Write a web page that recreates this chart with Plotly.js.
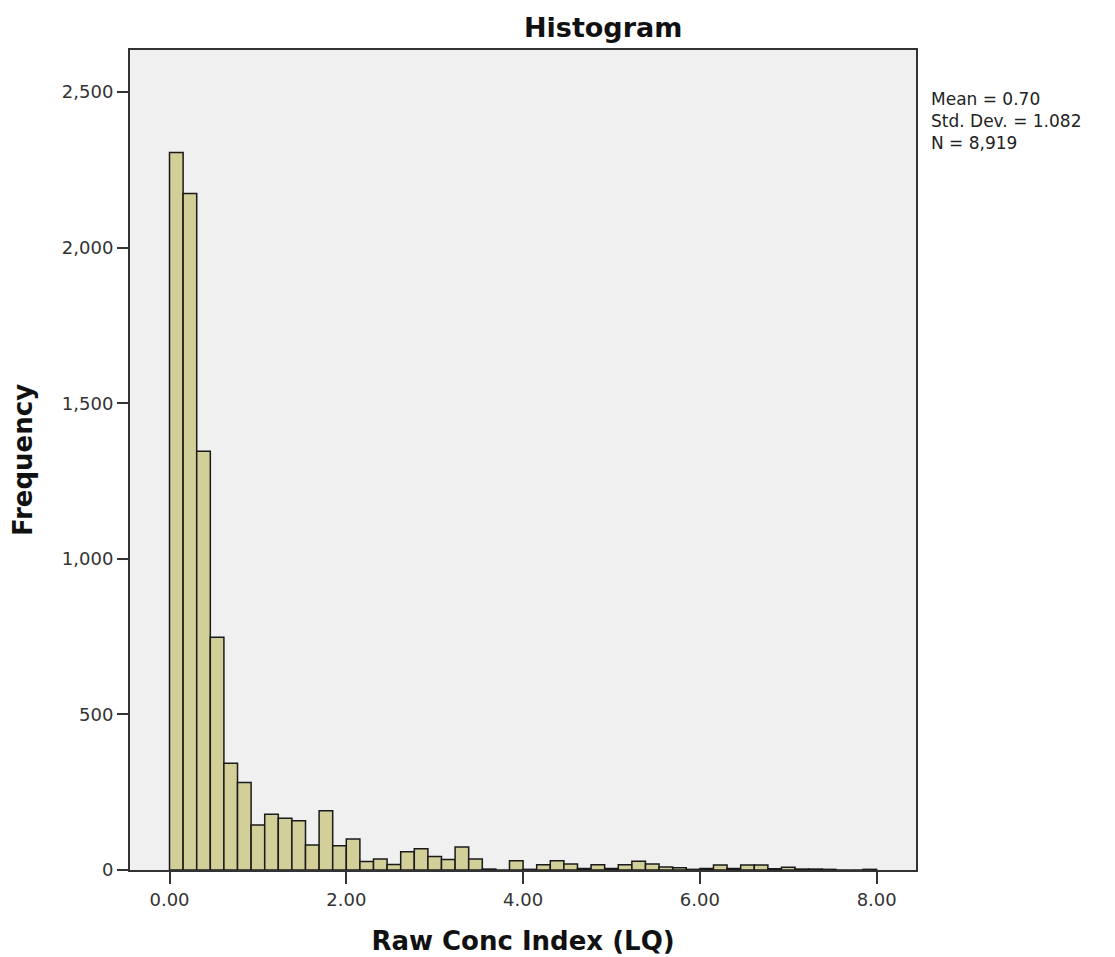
<!DOCTYPE html>
<html>
<head>
<meta charset="utf-8">
<script src="https://cdn.plot.ly/plotly-3.0.1.min.js"></script>
<style>html,body{margin:0;padding:0;background:#fff;}#chart{width:1115px;height:957px;}</style>
</head>
<body>
<div id="chart"></div>
<script>
// Histogram bins: 52 bins spanning 0 to 8
const binStart = 0;
const binEnd = 8;
const counts = [2306, 2174, 1346, 748, 343, 281, 145, 179, 166, 158,
                80, 190, 78, 100, 27, 35, 18, 59, 68, 43,
                34, 74, 35, 3, 0, 30, 2, 17, 30, 19,
                5, 17, 5, 17, 28, 19, 10, 7, 2, 5,
                16, 5, 16, 16, 4, 9, 3, 3, 2, 0,
                0, 2];
const xTickVals = [0, 2, 4, 6, 8];
const yTickVals = [0, 500, 1000, 1500, 2000, 2500];
const statsLines = ["Mean = 0.70", "Std. Dev. = 1.082", "N = 8,919"];

const binWidth = (binEnd - binStart) / counts.length;
const centers = counts.map((_, i) => binStart + (i + 0.5) * binWidth);

const trace = {
  type: 'bar',
  x: centers,
  y: counts,
  width: binWidth,
  marker: {color: '#d3cf98', line: {color: '#1a1a1a', width: 1.5}},
  hoverinfo: 'x+y'
};

const fontFam = '"DejaVu Sans", "Liberation Sans", sans-serif';

const layout = {
  width: 1115,
  height: 957,
  margin: {l: 130, r: 199, t: 50, b: 87},
  paper_bgcolor: '#ffffff',
  plot_bgcolor: '#f0f0f0',
  showlegend: false,
  bargap: 0,
  font: {family: fontFam, color: '#222'},
  title: {
    text: '<b>Histogram</b>',
    font: {family: fontFam, size: 27, color: '#111'},
    x: 0.602, xref: 'paper', xanchor: 'center',
    y: 0.971, yref: 'container', yanchor: 'middle'
  },
  xaxis: {
    range: [-0.447, 8.445],
    tickvals: xTickVals,
    tickformat: '.2f',
    ticks: 'outside', ticklen: 12, tickwidth: 2, tickcolor: '#333',
    showgrid: false, zeroline: false,
    showline: true, mirror: true, linecolor: '#333', linewidth: 2,
    tickfont: {family: fontFam, size: 18, color: '#333'},
    title: {text: '<b>Raw Conc Index (LQ)</b>', font: {family: fontFam, size: 26, color: '#111'}, standoff: 23}
  },
  yaxis: {
    range: [0, 2635],
    tickvals: yTickVals,
    tickformat: ',',
    ticks: 'outside', ticklen: 11, tickwidth: 2, tickcolor: '#333',
    showgrid: false, zeroline: false,
    showline: true, mirror: true, linecolor: '#333', linewidth: 2,
    tickfont: {family: fontFam, size: 18, color: '#333'},
    title: {text: '<b>Frequency</b>', font: {family: fontFam, size: 26, color: '#111'}, standoff: 22}
  },
  annotations: [{
    text: statsLines.join('<br>'),
    xref: 'paper', yref: 'paper',
    x: 1.0165, y: 0.9545,
    xanchor: 'left', yanchor: 'top', align: 'left',
    showarrow: false,
    font: {family: fontFam, size: 17, color: '#222'}
  }]
};

Plotly.newPlot('chart', [trace], layout, {displayModeBar: false, staticPlot: true});
</script>
</body>
</html>
